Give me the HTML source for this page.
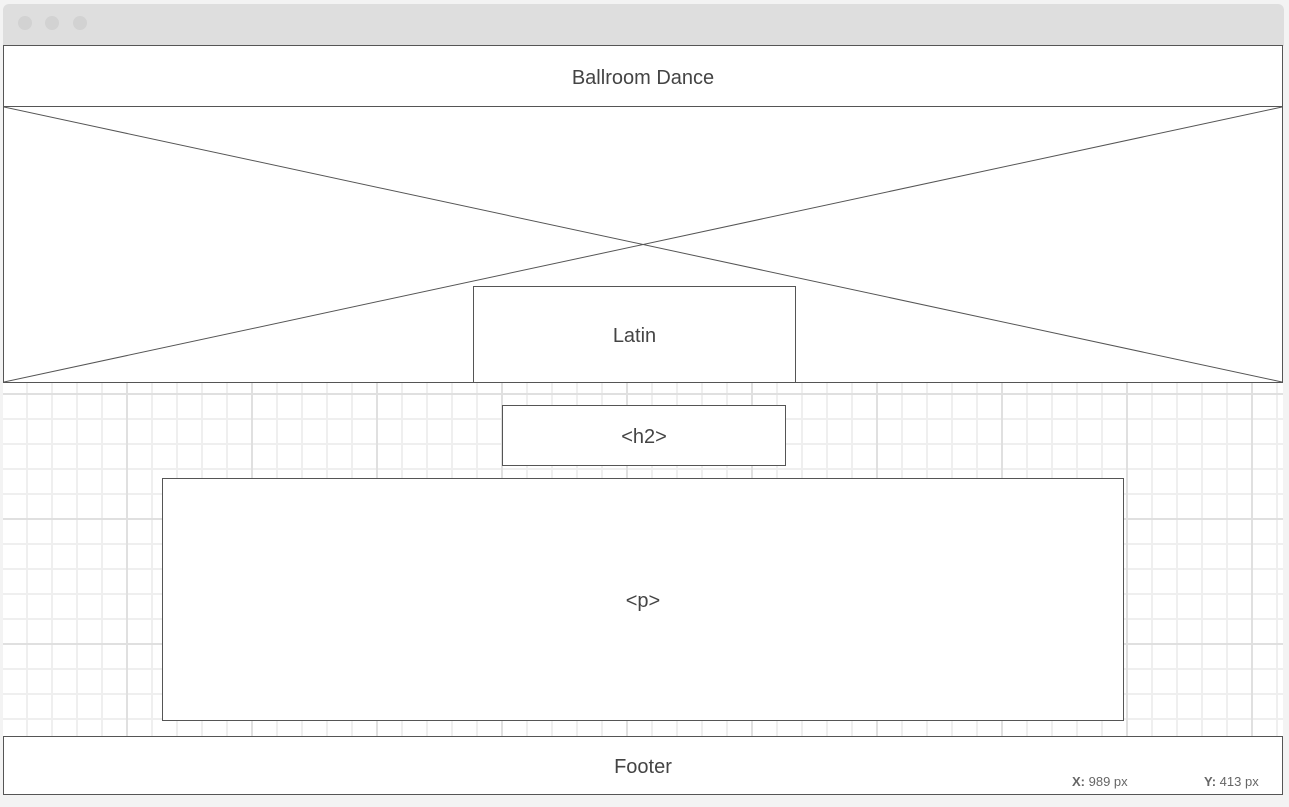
<!DOCTYPE html>
<html><head><meta charset="utf-8"><style>
body{margin:0;width:1289px;height:807px;background:#f3f3f3;position:relative;overflow:hidden;font-family:"Liberation Sans",sans-serif;color:#444}
.abs{position:absolute;box-sizing:border-box}
.box{border:1px solid #555;background:#fff;display:flex;align-items:center;justify-content:center;font-size:20px;color:#444;padding-top:4px}
.dot{position:absolute;top:16px;width:14px;height:14px;border-radius:50%;background:#d2d2d2}
</style></head><body>
<div class="abs" style="left:3px;top:4px;width:1281px;height:42px;background:#dedede;border-radius:6px 6px 0 0"></div>
<div class="dot" style="left:18px"></div>
<div class="dot" style="left:45px"></div>
<div class="dot" style="left:73px"></div>
<div class="abs" style="left:3px;top:382px;width:1280px;height:355px;background-color:#fff;background-image:linear-gradient(90deg,#e0e0e0 2px,transparent 2px),linear-gradient(#e0e0e0 2px,transparent 2px),linear-gradient(90deg,#efefef 2px,transparent 2px),linear-gradient(#efefef 2px,transparent 2px);background-size:125px 125px,125px 125px,25px 25px,25px 25px;background-position:-2px 11px,-2px 11px,-2px 11px,-2px 11px"></div>
<div class="abs box" style="left:3px;top:45px;width:1280px;height:62px">Ballroom Dance</div>
<div class="abs" style="left:3px;top:106px;width:1280px;height:277px;border:1px solid #555;background:#fff">
<svg width="1278" height="275" style="position:absolute;left:0;top:0"><line x1="0" y1="0" x2="1278" y2="275" stroke="#555" stroke-width="1"/><line x1="0" y1="275" x2="1278" y2="0" stroke="#555" stroke-width="1"/></svg>
</div>
<div class="abs box" style="left:473px;top:286px;width:323px;height:97px">Latin</div>
<div class="abs box" style="left:502px;top:405px;width:284px;height:61px">&lt;h2&gt;</div>
<div class="abs box" style="left:162px;top:478px;width:962px;height:243px">&lt;p&gt;</div>
<div class="abs box" style="left:3px;top:736px;width:1280px;height:59px">Footer</div>
<div class="abs" style="left:1066px;top:768px;width:216px;height:26px;background:#fff;font-size:13px;color:#666">
<span style="position:absolute;left:6px;top:6px"><b>X:</b> 989 px</span>
<span style="position:absolute;left:138px;top:6px"><b>Y:</b> 413 px</span>
</div>
</body></html>
